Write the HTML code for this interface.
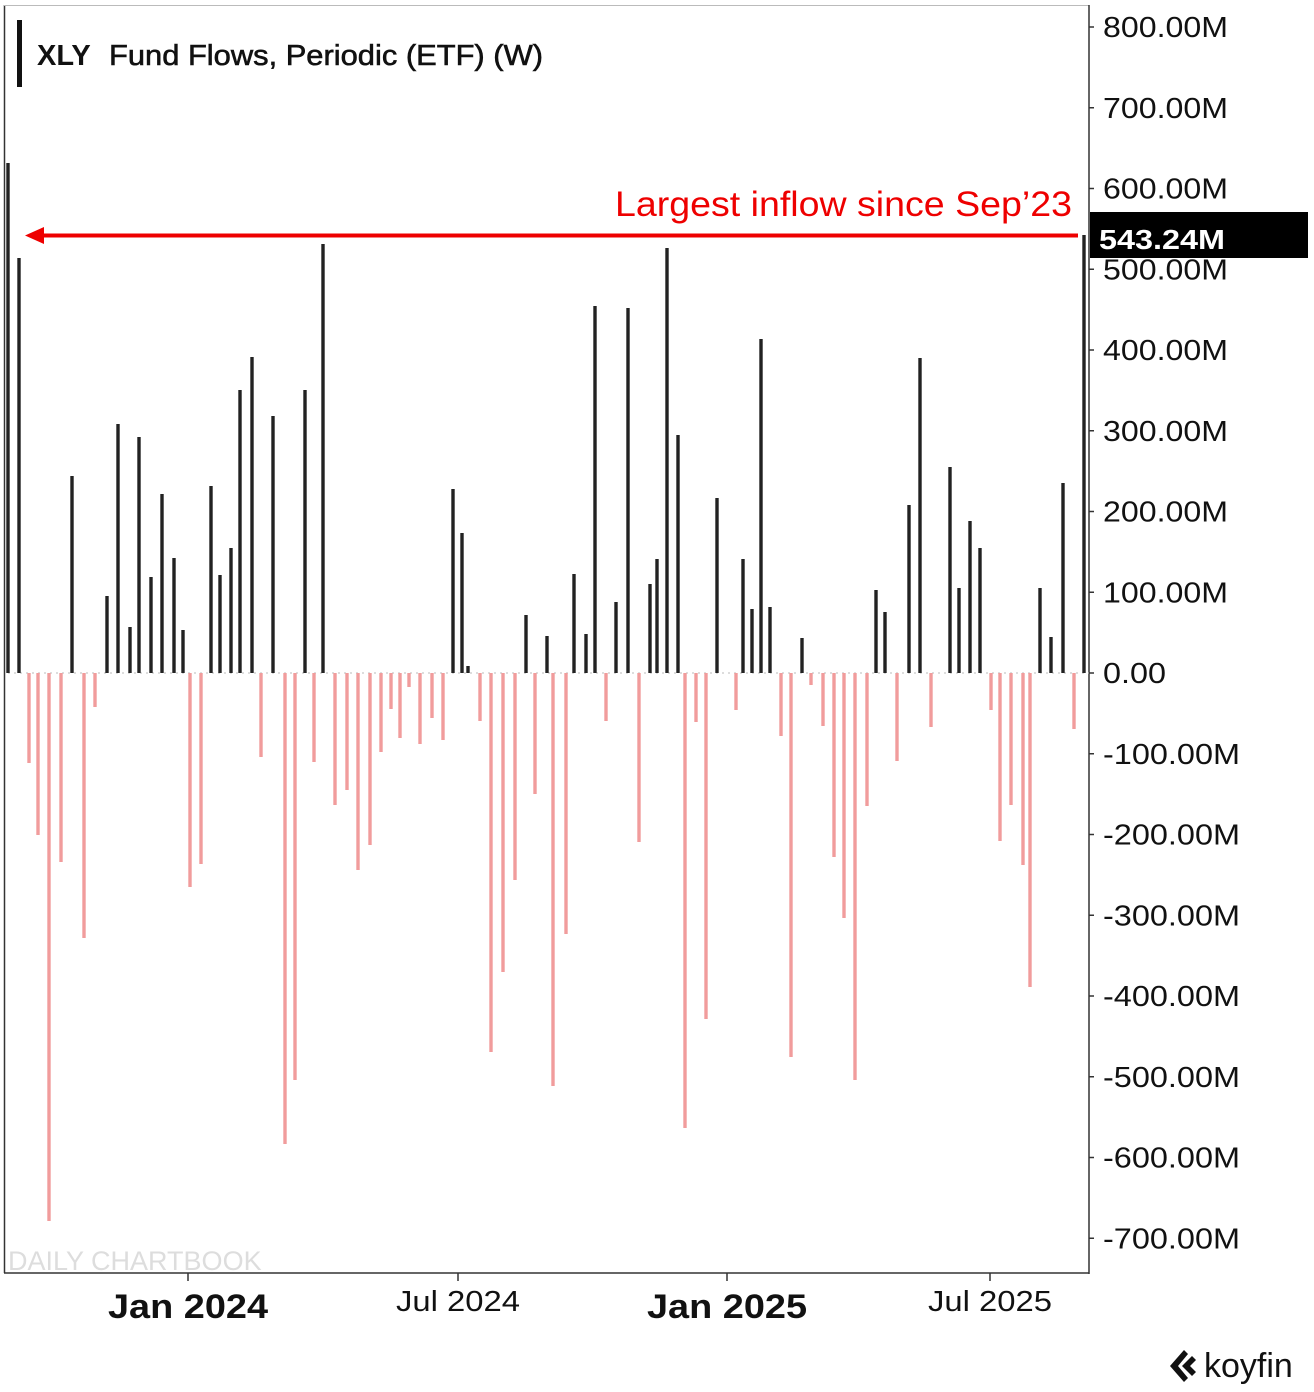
<!DOCTYPE html>
<html><head><meta charset="utf-8"><style>
html,body{margin:0;padding:0;background:#fff;}
svg{display:block;}
text{font-family:"Liberation Sans",sans-serif;}
</style></head><body>
<svg id="c" width="1314" height="1392" viewBox="0 0 1314 1392" xmlns="http://www.w3.org/2000/svg">
<rect x="0" y="0" width="1314" height="1392" fill="#fff"/>
<line x1="4.5" y1="5" x2="4.5" y2="1273" stroke="#333" stroke-width="1.5"/>
<line x1="4" y1="5.5" x2="1089" y2="5.5" stroke="#bbb" stroke-width="1"/>
<line x1="1089" y1="5" x2="1089" y2="1274" stroke="#333" stroke-width="1.5"/>
<line x1="4" y1="1273" x2="1089" y2="1273" stroke="#333" stroke-width="1.5"/>
<line x1="8" y1="673" x2="1089" y2="673" stroke="#bbb" stroke-width="1" stroke-dasharray="2,4"/>
<g id="bars"></g>
<g id="yax" font-size="29" fill="#111"></g>
<line x1="188" y1="1273" x2="188" y2="1281" stroke="#333" stroke-width="1.5"/>
<line x1="458" y1="1273" x2="458" y2="1281" stroke="#333" stroke-width="1.5"/>
<line x1="727" y1="1273" x2="727" y2="1281" stroke="#333" stroke-width="1.5"/>
<line x1="990" y1="1273" x2="990" y2="1281" stroke="#333" stroke-width="1.5"/>
<text x="108" y="1318" font-size="34" font-weight="bold" fill="#111" textLength="160" lengthAdjust="spacingAndGlyphs">Jan 2024</text>
<text x="396" y="1311" font-size="29" fill="#111" textLength="124" lengthAdjust="spacingAndGlyphs">Jul 2024</text>
<text x="647" y="1318" font-size="34" font-weight="bold" fill="#111" textLength="160" lengthAdjust="spacingAndGlyphs">Jan 2025</text>
<text x="928" y="1311" font-size="29" fill="#111" textLength="124" lengthAdjust="spacingAndGlyphs">Jul 2025</text>
<text x="8" y="1270" font-size="27" fill="#ddd">DAILY CHARTBOOK</text>
<rect x="17" y="20" width="5" height="67" fill="#111"/>
<text x="37" y="65" font-size="29" font-weight="bold" fill="#111">XLY</text>
<text x="109" y="65" font-size="29" fill="#111" stroke="#111" stroke-width="0.6" textLength="434" lengthAdjust="spacingAndGlyphs">Fund Flows, Periodic (ETF) (W)</text>
<line x1="40" y1="235.5" x2="1078" y2="235.5" stroke="#e00" stroke-width="4"/>
<polygon points="25,235.5 44,227 44,244" fill="#e00"/>
<text x="615" y="216" font-size="35" fill="#e00" textLength="457" lengthAdjust="spacingAndGlyphs">Largest inflow since Sep’23</text>
<rect x="1090" y="212" width="218" height="46" fill="#000"/>
<text x="1099" y="249" font-size="28" font-weight="bold" fill="#fff" textLength="126" lengthAdjust="spacingAndGlyphs">543.24M</text>
<g transform="translate(1168,1366)">
<path d="M16,-16 L2,0 L16,16 L20,12 L10,0 L20,-12 Z" fill="#111"/>
<path d="M24,-10 L14,0 L24,10 L28,6 L22,0 L28,-6 Z" fill="#111"/>
</g>
<text x="1204" y="1377" font-size="34" fill="#111">koyfin</text>
</svg>
<script>
var pos=[[8,163],[19,258],[72,476],[107,596],[118,424],[130,627],[139,437],[151,577],[162,494],[174,558],[183,630],[211,486],[220,575],[231,548],[240,390],[252,357],[273,416],[305,390],[323,244],[453,489],[462,533],[468,666],[526,615],[547,636],[574,574],[586,634],[595,306],[616,602],[628,308],[650,584],[657,559],[667,248],[678,435],[717,498],[743,559],[752,609],[761,339],[770,607],[802,638],[876,590],[885,612],[909,505],[920,358],[950,467],[959,588],[970,521],[980,548],[1040,588],[1051,637],[1063,483],[1084,235]];
var neg=[[29,763],[38,835],[49,1221],[61,862],[84,938],[95,707],[190,887],[201,864],[261,757],[285,1144],[295,1080],[314,762],[335,805],[347,790],[358,870],[370,845],[381,752],[391,709],[400,738],[409,687],[420,744],[432,718],[443,740],[480,721],[491,1052],[503,972],[515,880],[535,794],[553,1086],[566,934],[606,721],[639,842],[685,1128],[696,722],[706,1019],[736,710],[781,736],[791,1057],[811,685],[823,726],[834,857],[844,918],[855,1080],[867,806],[897,761],[931,727],[991,710],[1000,841],[1011,805],[1023,865],[1030,987],[1074,729]];
var s='';
pos.forEach(function(p){s+='<rect x="'+(p[0]-1.7)+'" y="'+p[1]+'" width="3.4" height="'+(673-p[1])+'" fill="#222"/>';});
neg.forEach(function(p){s+='<rect x="'+(p[0]-1.7)+'" y="673" width="3.4" height="'+(p[1]-673)+'" fill="#f19c9c"/>';});
document.getElementById('bars').innerHTML=s;
var y='';
for(var v=800;v>=-700;v-=100){var yy=673-v*0.8075;var lab=v==0?'0.00':(v<0?'-':'')+Math.abs(v)+'.00M';
var w=v==0?63:(v<0?137:125);
y+='<line x1="1089" y1="'+yy+'" x2="1094" y2="'+yy+'" stroke="#333" stroke-width="1.5"/>';
y+='<text x="1103" y="'+(yy+10)+'" textLength="'+w+'" lengthAdjust="spacingAndGlyphs">'+lab+'</text>';}
document.getElementById('yax').innerHTML=y;
</script>
</body></html>
